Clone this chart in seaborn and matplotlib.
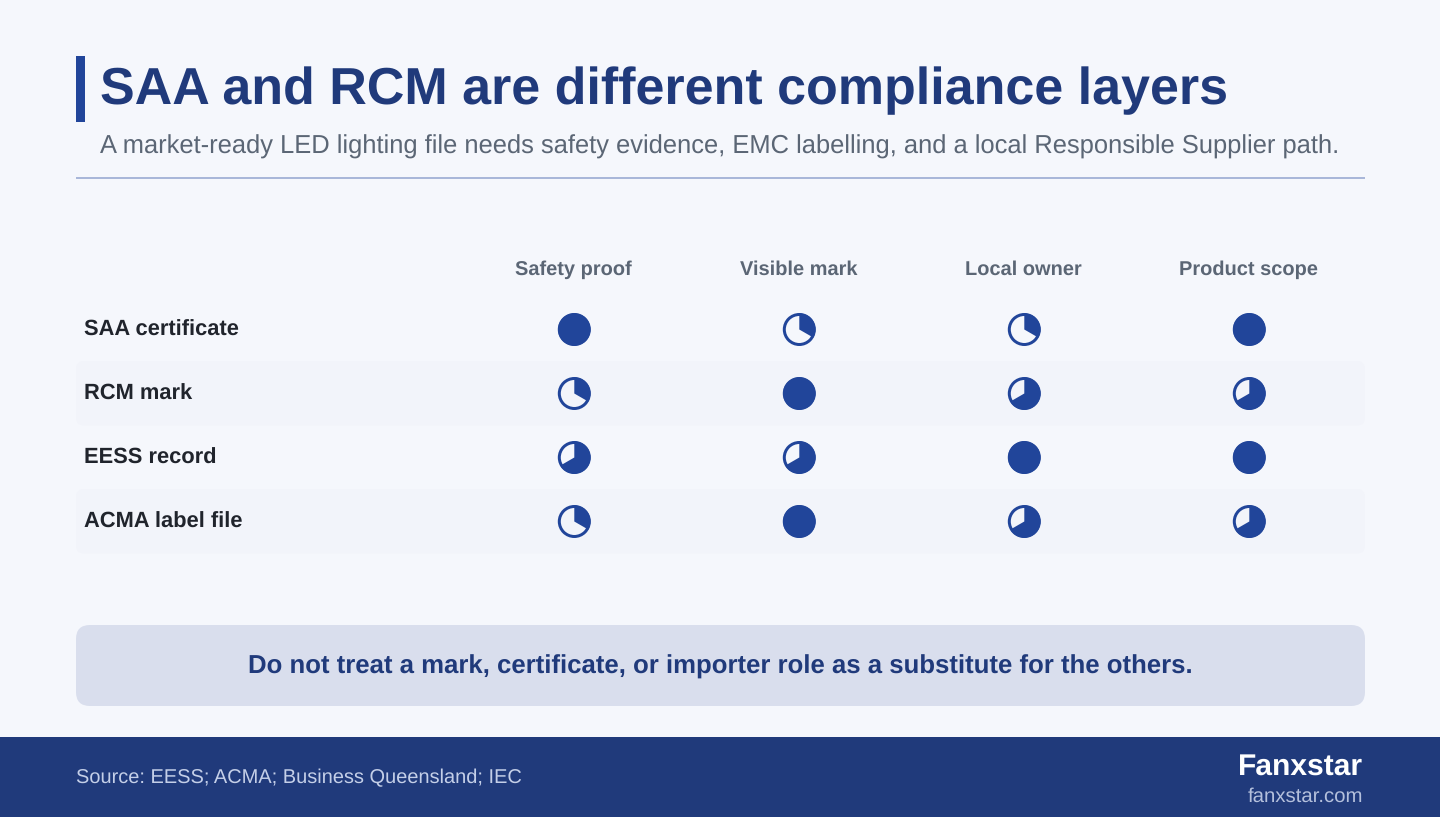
import numpy as np
import pandas as pd
import matplotlib
matplotlib.use("Agg")
import matplotlib.pyplot as plt
from matplotlib.patches import FancyBboxPatch, Rectangle, Wedge
import seaborn as sns

# ---- data ----
criteria = ["Safety proof", "Visible mark", "Local owner", "Product scope"]
documents = ["SAA certificate", "RCM mark", "EESS record", "ACMA label file"]
saa_scores = [3, 1, 1, 3]
rcm_scores = [1, 3, 2, 2]
eess_scores = [2, 2, 3, 3]
acma_scores = [1, 3, 2, 2]

title = "SAA and RCM are different compliance layers"
subtitle = "A market-ready LED lighting file needs safety evidence, EMC labelling, and a local Responsible Supplier path."
callout = "Do not treat a mark, certificate, or importer role as a substitute for the others."
source = "Source: EESS; ACMA; Business Queensland; IEC"
brand = "Fanxstar"
site = "fanxstar.com"

# ---- style ----
BG = "#F5F7FC"; NAVY = "#203A7B"; BLUE = "#21459A"; GREY = "#5B6675"
INK = "#20242C"; BAND = "#F2F4FA"; RULE = "#A9B7D9"; CALL = "#D9DEED"

sns.set_theme(style="white")
plt.rcParams["font.family"] = ["Liberation Sans", "DejaVu Sans"]
plt.rcParams["text.hinting"] = "no_hinting"
plt.rcParams["text.hinting_factor"] = 8

fig = plt.figure(figsize=(14.4, 8.17), dpi=100, facecolor=BG)
ax = fig.add_axes([0, 0, 1, 1])
ax.set_xlim(0, 1440); ax.set_ylim(817, 0); ax.axis("off")
px = lambda p: p * 0.72

# header
ax.add_patch(Rectangle((76, 56), 9, 66, fc=BLUE, ec="none"))
ax.text(100, 85, title, fontsize=px(52), fontweight="bold", color=NAVY, va="center_baseline")
ax.text(100, 144, subtitle, fontsize=px(25.54), color=GREY, va="center_baseline")
ax.plot([76, 1365], [178, 178], color=RULE, lw=1.44, solid_capstyle="butt")

# matrix layout
col_x = 574.3 + 225 * np.arange(len(criteria))
row_y = 329.5 + 64 * np.arange(len(documents))
R = 16.5

for i, y in enumerate(row_y):
    if i % 2 == 1:
        ax.add_patch(FancyBboxPatch((76 + 8, y - 32.5 + 8), 1289 - 16, 64.5 - 16,
                                    boxstyle="round,pad=8,rounding_size=8", fc=BAND, ec="none"))

for x, c in zip(col_x, criteria):
    ax.text(x - 0.6, 268, c, fontsize=px(20), fontweight="bold", color=GREY, ha="center", va="center_baseline")
for y, d in zip(row_y, documents):
    ax.text(84, y - 1.8, d, fontsize=px(21.9), fontweight="bold", color=INK, va="center_baseline")

df = pd.DataFrame([saa_scores, rcm_scores, eess_scores, acma_scores], index=documents, columns=criteria)
long = df.reset_index(names="doc").melt(id_vars="doc", var_name="crit", value_name="score")
long["x"] = long["crit"].map(dict(zip(criteria, col_x)))
long["y"] = long["doc"].map(dict(zip(documents, row_y)))

sns.scatterplot(data=long, x="x", y="y", s=(2 * (R - 1.5) * 0.72) ** 2, marker="o",
                facecolor="none", edgecolor=BLUE, linewidth=2.16, legend=False, ax=ax, zorder=3)
for _, r in long.iterrows():
    # y axis is inverted: theta runs clockwise on screen from 12 o'clock
    sweep = 360 * r["score"] / 3
    ax.add_patch(Wedge((r["x"], r["y"]), R - 0.3, -90, -90 + sweep, fc=BLUE, ec="none", zorder=4))
ax.set_xlim(0, 1440); ax.set_ylim(817, 0); ax.axis("off")

# callout
ax.add_patch(FancyBboxPatch((76 + 14, 625 + 14), 1289 - 28, 81 - 28,
                            boxstyle="round,pad=14,rounding_size=14", fc=CALL, ec="none"))
ax.text(720, 664, callout, fontsize=px(25.7), fontweight="bold", color=NAVY, ha="center", va="center_baseline")

# footer
ax.add_patch(Rectangle((0, 737), 1440, 80, fc=NAVY, ec="none"))
ax.text(76, 776, source, fontsize=px(20.05), color="#C4CFE8", va="center_baseline")
ax.text(1363.5, 763.5, brand, fontsize=px(30), fontweight="bold", color="white", ha="right", va="center_baseline")
ax.text(1363.5, 795, site, fontsize=px(20.4), color="#B4C0DC", ha="right", va="center_baseline")

fig.savefig("out.png", dpi=100, facecolor=BG)
